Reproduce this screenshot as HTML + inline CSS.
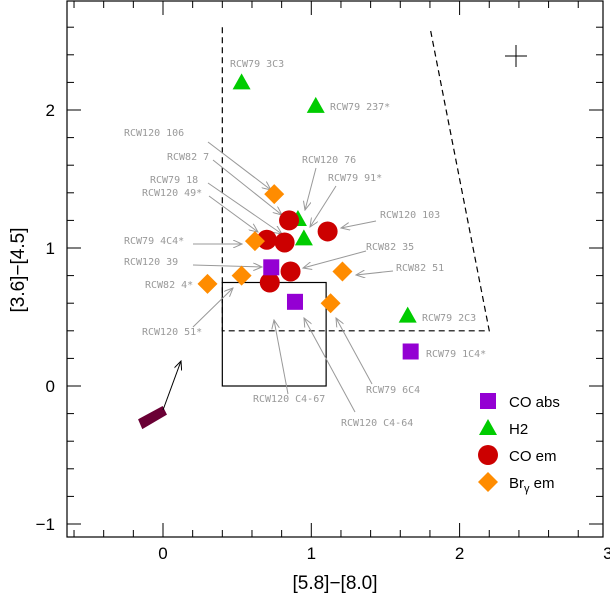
<!DOCTYPE html>
<html><head><meta charset="utf-8"><style>
body{margin:0;background:#fff}
svg{display:block}
text{font-family:"Liberation Sans",sans-serif}
.lb{font-family:"DejaVu Sans Mono","Liberation Mono",monospace;font-size:10px;fill:#999}
</style></head><body>
<svg id="c" width="610" height="596">
<defs><marker id="ah" markerWidth="10" markerHeight="8" refX="9" refY="4" orient="auto" markerUnits="userSpaceOnUse"><path d="M0,0 L9,4 L0,8" fill="none" stroke="#999" stroke-width="1"/></marker>
<marker id="ak" markerWidth="10" markerHeight="8" refX="9" refY="4" orient="auto" markerUnits="userSpaceOnUse"><path d="M0,0 L9,4 L0,8" fill="none" stroke="#000" stroke-width="1"/></marker></defs>
</svg>
<script>
const xTicks=[0,1,2,3];
const yTicks=[-1,0,1,2];
const coAbsX=[0.73,0.89,1.67];
const coAbsY=[0.86,0.61,0.25];
const h2X=[0.53,1.03,0.91,0.95,1.65];
const h2Y=[2.2,2.03,1.21,1.07,0.51];
const coEmX=[0.85,0.70,0.82,1.11,0.86,0.72];
const coEmY=[1.20,1.06,1.04,1.12,0.83,0.75];
const brX=[0.75,0.62,0.30,0.53,1.21,1.13];
const brY=[1.39,1.05,0.74,0.80,0.83,0.60];
const labels=["RCW79 3C3","RCW79 237*","RCW120 106","RCW82 7","RCW120 76","RCW79 18","RCW120 49*","RCW79 91*","RCW120 103","RCW79 4C4*","RCW82 35","RCW120 39","RCW82 51","RCW82 4*","RCW120 51*","RCW79 2C3","RCW79 1C4*","RCW79 6C4","RCW120 C4-67","RCW120 C4-64"];
const X0=163,SX=148.3,Y0=386,SY=138;
const L=67,R=603,T=1,B=537;
const sx=v=>X0+v*SX, sy=v=>Y0-v*SY;
const svg=document.getElementById('c');const NS='http://www.w3.org/2000/svg';
function el(t,a,p){const e=document.createElementNS(NS,t);for(const k in a)e.setAttribute(k,a[k]);(p||svg).appendChild(e);return e;}
// frame
let f=el('rect',{x:L,y:T,width:R-L,height:B-T,fill:'none',stroke:'#000','stroke-width':1.2});


for(let i=-3;i<=14;i++){const v=i*0.2;const x=sx(v);if(x<L||x>R)continue;const big=i%5==0;const len=big?14:7;
 el('line',{x1:x,y1:B,x2:x,y2:B-len,stroke:'#000'});el('line',{x1:x,y1:T,x2:x,y2:T+len,stroke:'#000'});}
for(let i=-6;i<=14;i++){const v=i*0.2;const y=sy(v);if(y<T||y>B)continue;const big=i%5==0;const len=big?14:7;
 el('line',{x1:L,y1:y,x2:L+len,y2:y,stroke:'#000'});el('line',{x1:R,y1:y,x2:R-len,y2:y,stroke:'#000'});}
xTicks.forEach(v=>{const t=el('text',{x:sx(v),y:559,'text-anchor':'middle','font-size':17});t.textContent=v;
 
 });
yTicks.forEach(v=>{const t=el('text',{x:55,y:sy(v)+6,'text-anchor':'end','font-size':17});t.textContent=v<0?'\u2212'+(-v):v;
 
 });
let xt=el('text',{x:335,y:589,'text-anchor':'middle','font-size':19});xt.textContent='[5.8]\u2212[8.0]';


let yt=el('text',{x:0,y:0,'text-anchor':'middle','font-size':19,transform:'translate(24,270) rotate(-90)'});yt.textContent='[3.6]\u2212[4.5]';


// regions
let d=el('path',{d:`M${sx(0.4)},${sy(2.6)} L${sx(0.4)},${sy(0.4)} L${sx(2.2)},${sy(0.4)} L${sx(1.8)},${sy(2.6)}`,fill:'none',stroke:'#000','stroke-dasharray':'6,4','stroke-width':1.2});


let bx=el('rect',{x:sx(0.4),y:sy(0.75),width:sx(1.1)-sx(0.4),height:sy(0)-sy(0.75),fill:'none',stroke:'#000','stroke-width':1.2});


// error cross
el('line',{x1:505,y1:56,x2:527,y2:56,stroke:'#000'});el('line',{x1:516,y1:45,x2:516,y2:67,stroke:'#000'});
// reddening blob + arrow
let bl=el('path',{d:'M140,420 L162,408 L165,414 L143,427 Z',fill:'#6a0035',stroke:'#6a0035','stroke-width':3});


let ar=el('line',{x1:163,y1:410,x2:181,y2:361,stroke:'#000','marker-end':'url(#ak)'});


// labels
const lp=[[230,67],[330,110],[124,136],[167,160],[302,163],[150,183],[142,196],[328,181],[380,218],[124,244],[366,250],[124,265],[396,271],[145,288],[142,335],[422,321],[426,357],[366,393],[253,402],[341,426]];
const arr=[null,null,[208,142,271,190],[213,160,282,215],[316,168,305,210],[208,183,282,234],[209,196,258,232],[336,186,310,227],[376,221,341,228],[193,244,242,244],[366,251,303,268],[193,265,262,267],[393,271,356,275],null,[193,327,233,288],null,null,[372,384,336,318],[288,394,274,320],[355,412,304,318]];
labels.forEach((s,i)=>{const t=el('text',{x:lp[i][0],y:lp[i][1],class:'lb'});t.textContent=s;
 
 
 const a=arr[i];if(a){el('line',{x1:a[0],y1:a[1],x2:a[2],y2:a[3],stroke:'#999','stroke-width':1,'marker-end':'url(#ah)'});}});
// markers
function sq(x,y,g){return el('rect',{x:x-8,y:y-8,width:16,height:16,fill:'#9400d3'},g);}
function tri(x,y,g){return el('path',{d:`M${x},${y-9} L${x+9},${y+7} L${x-9},${y+7} Z`,fill:'#00cc00'},g);}
function circ(x,y,g){return el('circle',{cx:x,cy:y,r:10,fill:'#cc0000'},g);}
function dia(x,y,g){return el('path',{d:`M${x},${y-10} L${x+10},${y} L${x},${y+10} L${x-10},${y} Z`,fill:'#ff8c00'},g);}
h2X.forEach((v,i)=>{const m=tri(sx(v),sy(h2Y[i]));});
coEmX.forEach((v,i)=>{const m=circ(sx(v),sy(coEmY[i]));});
brX.forEach((v,i)=>{const m=dia(sx(v),sy(brY[i]));});
coAbsX.forEach((v,i)=>{const m=sq(sx(v),sy(coAbsY[i]));});
// legend
const lg=el('g',{});
const items=[['CO abs',sq],['H2',tri],['CO em',circ],['Br',dia]];
items.forEach((it,i)=>{const y=401+i*27;it[1](488,y,lg);const t=el('text',{x:509,y:y+6,'font-size':15,'font-family':'Liberation Sans'},lg);
 if(i==3){t.innerHTML='Br<tspan font-size="11" dy="4">\u03b3</tspan><tspan dy="-4"> em</tspan>';}else t.textContent=it[0];
 
 });
</script>
</body></html>
